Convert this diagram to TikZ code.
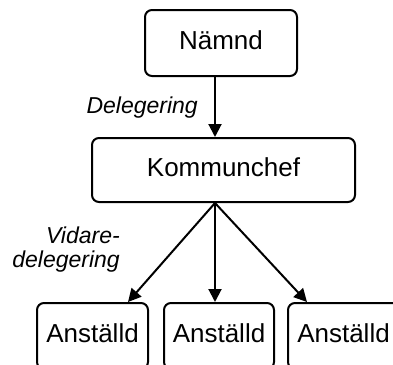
\documentclass[tikz,border=0pt]{standalone}
\usepackage{fontspec}
\setmainfont{Liberation Sans}
\usetikzlibrary{arrows.meta,calc}
\begin{document}
\begin{tikzpicture}[x=1pt,y=-1pt,
  box/.style={draw,line width=2pt,rounded corners=7pt,inner sep=0pt,
    font=\fontsize{26}{30}\selectfont,text height=19pt,text depth=7pt,
    minimum height=66pt},
  arr/.style={line width=2pt,-{Triangle[length=13pt,width=13pt]}},
  lab/.style={font=\fontsize{23}{24}\selectfont\itshape,inner sep=0pt,align=right}]
\clip (0,0) rectangle (393,364);
\fill[white] (0,0) rectangle (393,364);
\node[box,minimum width=152pt] (namnd) at (221,43) {Nämnd};
\node[box,minimum width=263pt,minimum height=64pt] (kc) at (223.5,170) {Kommunchef};
\node[box,minimum width=111pt] (a1) at (92.5,336) {Anställd};
\node[box,minimum width=110pt] (a2) at (219,336) {Anställd};
\node[box,minimum width=111pt] (a3) at (343.5,336) {Anställd};
\coordinate (s1) at ($(namnd.south)+(-6,0)$);
\coordinate (s2) at ($(kc.south)+(-8.5,0)$);
\coordinate (t1) at ($(a1.north)+(35.5,0)$);
\coordinate (t3) at ($(a3.north)+(-36.5,0)$);
\draw[arr] (s1) -- (s1 |- kc.north);
\draw[arr] (s2) -- (t1);
\draw[arr] (s2) -- (s2 |- a2.north);
\draw[arr] (s2) -- (t3);
\node[lab,anchor=base east] (l1) at (198,113) {Delegering};
\node[lab,anchor=base east] (l2) at (120,267) {Vidare-\\delegering};
\end{tikzpicture}
\end{document}
